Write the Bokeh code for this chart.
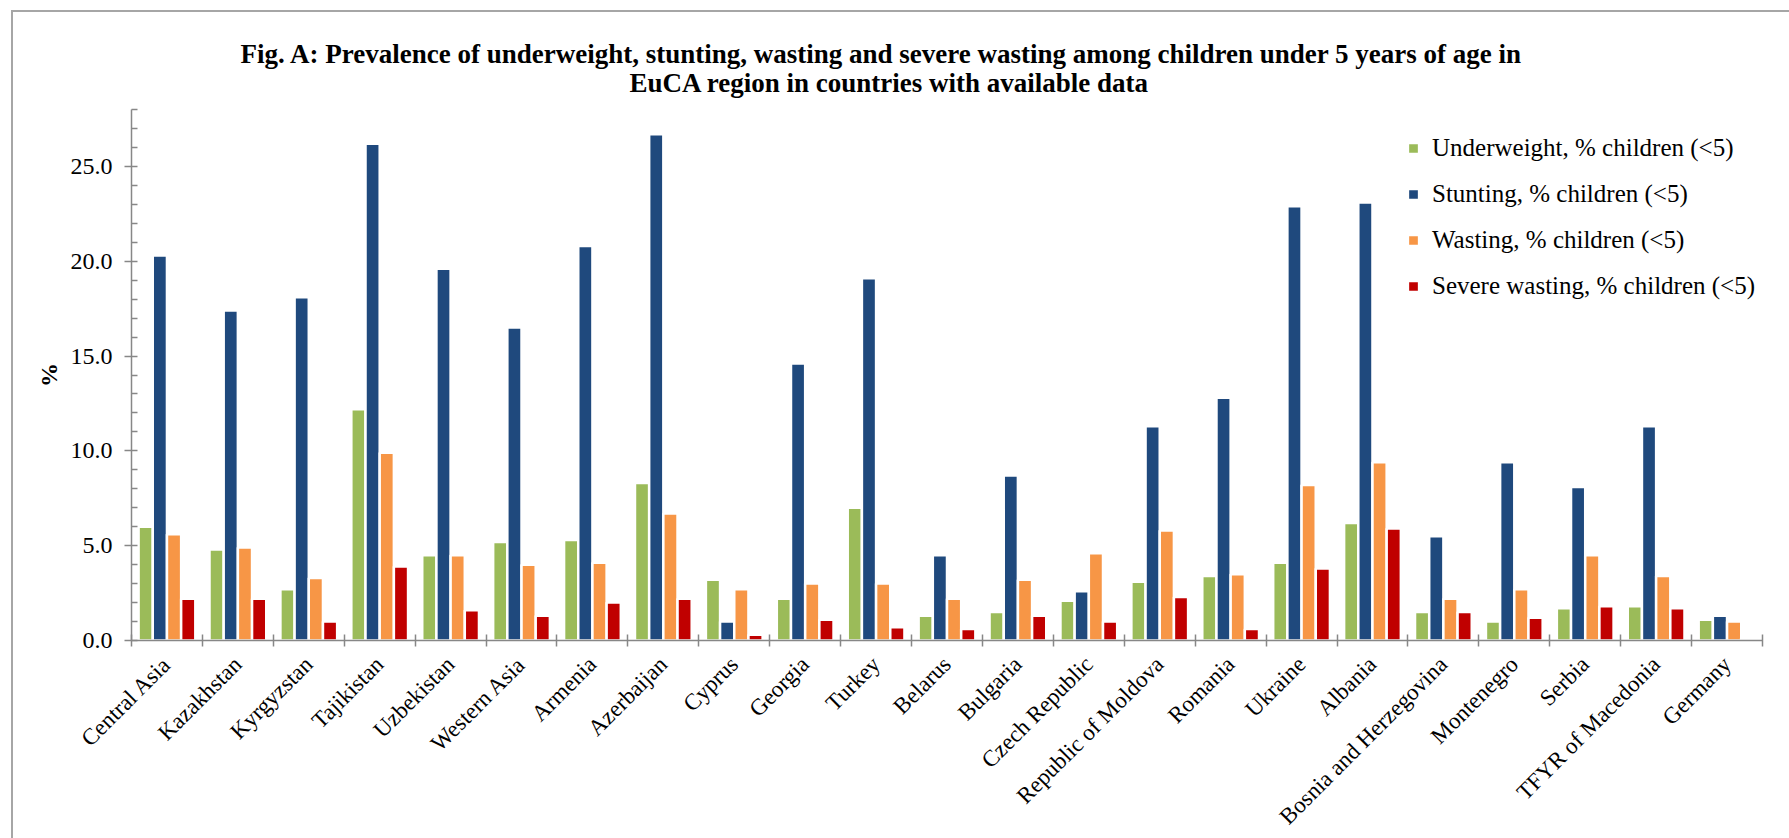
import math
from bokeh.plotting import figure
from bokeh.models import (Range1d, FixedTicker, SingleIntervalTicker, NumeralTickFormatter,
                          ColumnDataSource, Legend, LegendItem, Title)
from bokeh.transform import dodge
from bokeh.embed import file_html
from bokeh.resources import INLINE

categories = ["Central Asia", "Kazakhstan", "Kyrgyzstan", "Tajikistan", "Uzbekistan",
              "Western Asia", "Armenia", "Azerbaijan", "Cyprus", "Georgia", "Turkey",
              "Belarus", "Bulgaria", "Czech Republic", "Republic of Moldova", "Romania",
              "Ukraine", "Albania", "Bosnia and Herzegovina", "Montenegro", "Serbia",
              "TFYR of Macedonia", "Germany"]
underweight = [6.0, 4.8, 2.7, 12.2, 4.5, 5.2, 5.3, 8.3, 3.2, 2.2, 7.0, 1.3, 1.5, 2.1,
               3.1, 3.4, 4.1, 6.2, 1.5, 1.0, 1.7, 1.8, 1.1]
stunting = [20.3, 17.4, 18.1, 26.2, 19.6, 16.5, 20.8, 26.7, 1.0, 14.6, 19.1, 4.5, 8.7, 2.6,
            11.3, 12.8, 22.9, 23.1, 5.5, 9.4, 8.1, 11.3, 1.3]
wasting = [5.6, 4.9, 3.3, 9.9, 4.5, 4.0, 4.1, 6.7, 2.7, 3.0, 3.0, 2.2, 3.2, 4.6,
           5.8, 3.5, 8.2, 9.4, 2.2, 2.7, 4.5, 3.4, 1.0]
severe_wasting = [2.2, 2.2, 1.0, 3.9, 1.6, 1.3, 2.0, 2.2, 0.3, 1.1, 0.7, 0.6, 1.3, 1.0,
                  2.3, 0.6, 3.8, 5.9, 1.5, 1.2, 1.8, 1.7, 0.1]
series_names = ["Underweight, % children (<5)", "Stunting, % children (<5)",
                "Wasting, % children (<5)", "Severe wasting, % children (<5)"]
series_colors = ["#9BBB59", "#1F497D", "#F79646", "#C00000"]
title_lines = ["Fig. A: Prevalence of underweight,  stunting,  wasting and severe wasting among children  under  5 years of age in",
               "EuCA  region in countries  with  available  data"]
y_label = "%"

FONT = "Liberation Serif"
AXIS_GRAY = "#878787"

n = len(categories)
xs = list(range(n))
source = ColumnDataSource(dict(x=xs, cat=categories, u=underweight, s=stunting,
                               w=wasting, sw=severe_wasting))

p = figure(frame_width=1631, frame_height=531,
           x_range=Range1d(-0.5, n - 0.5), y_range=Range1d(0, 28),
           output_backend="svg", toolbar_location=None,
           min_border_left=118, min_border_right=27, min_border_top=97, min_border_bottom=196,
           margin=(10, 0, 0, 11))
p.styles = {"border-left": "2px solid #a6a6a6", "border-top": "2px solid #a6a6a6"}
p.outline_line_color = None
p.xgrid.visible = False
p.ygrid.visible = False
p.background_fill_color = "white"
p.border_fill_color = "white"

cols = ["u", "s", "w", "sw"]
offsets = [-0.3, -0.1, 0.1, 0.3]
renderers = []
for col, off, color in zip(cols, offsets, series_colors):
    r = p.vbar(x=dodge("x", off, range=p.x_range), top=col, width=0.2, source=source,
               fill_color=color, line_color="white", line_width=2.5)
    renderers.append(r)

# x axis: labels at category centres, ticks at category boundaries
xa = p.xaxis[0]
xa.ticker = FixedTicker(ticks=xs, minor_ticks=[i - 0.5 for i in range(n + 1)])
xa.major_label_overrides = {i: c for i, c in enumerate(categories)}
xa.major_label_orientation = math.pi / 4
xa.major_tick_line_color = None
xa.major_tick_out = 0
xa.major_tick_in = 0
xa.minor_tick_in = 6
xa.minor_tick_out = 6
xa.minor_tick_line_color = AXIS_GRAY
xa.minor_tick_line_width = 1.5
xa.axis_line_color = AXIS_GRAY
xa.axis_line_width = 1.5
xa.major_label_text_font = FONT
xa.major_label_text_font_size = "23px"
xa.major_label_text_color = "black"
xa.major_label_standoff = 14

ya = p.yaxis[0]
ya.ticker = SingleIntervalTicker(interval=5, num_minor_ticks=5)
ya.formatter = NumeralTickFormatter(format="0.0")
ya.major_tick_in = 0
ya.major_tick_out = 7
ya.minor_tick_in = 6
ya.minor_tick_out = 0
ya.major_tick_line_color = AXIS_GRAY
ya.minor_tick_line_color = AXIS_GRAY
ya.major_tick_line_width = 1.5
ya.minor_tick_line_width = 1.5
ya.axis_line_color = AXIS_GRAY
ya.axis_line_width = 1.5
ya.major_label_text_font = FONT
ya.major_label_text_font_size = "24px"
ya.major_label_text_color = "black"
ya.major_label_standoff = 12
ya.axis_label = y_label
ya.axis_label_text_font = FONT
ya.axis_label_text_font_size = "24px"
ya.axis_label_text_font_style = "bold"
ya.axis_label_text_color = "black"
ya.axis_label_standoff = 6

legend = Legend(items=[LegendItem(label=nm, renderers=[r]) for nm, r in zip(series_names, renderers)],
                location=(1275, 339), glyph_width=14, glyph_height=14, label_standoff=12,
                label_text_font=FONT, label_text_font_size="25px", label_text_color="black",
                label_height=30, spacing=16, padding=0, margin=0,
                border_line_color=None, background_fill_alpha=0)
p.add_layout(legend)

# title: second line added first (closest to the plot), first line on top
p.add_layout(Title(text=title_lines[1], align="left", offset=498, vertical_align="top",
                   standoff=20, text_font=FONT, text_font_style="bold",
                   text_font_size="27px", text_color="black"), "above")
p.add_layout(Title(text=title_lines[0], align="left", offset=109, vertical_align="bottom",
                   standoff=-22, text_font=FONT, text_font_style="bold",
                   text_font_size="27px", text_color="black"), "above")

open("out.html", "w").write(file_html(p, INLINE))
